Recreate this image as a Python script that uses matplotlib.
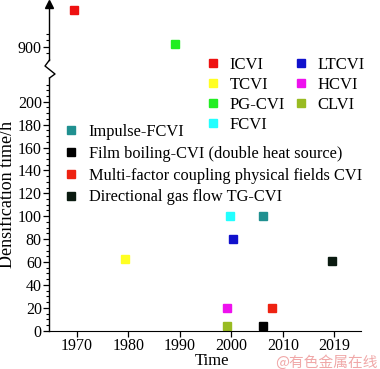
import matplotlib
matplotlib.use("Agg")
import matplotlib.pyplot as plt
from matplotlib.lines import Line2D
from matplotlib.ticker import FixedLocator, NullLocator

plt.rcParams['font.family'] = ['Liberation Serif', 'DejaVu Serif']

# ---- data ----
methods = ["ICVI", "TCVI", "PG-CVI", "FCVI", "LTCVI", "HCVI", "CLVI",
           "Impulse-FCVI", "Film boiling-CVI (double heat source)",
           "Multi-factor coupling physical fields CVI", "Directional gas flow TG-CVI"]
years = [1969.5, 1979.3, 1989.0, 1999.7, 2000.4, 1999.1, 1999.1,
         2006.1, 2006.1, 2008.0, 2019.5]
hours = [1041, 62.5, 909, 100, 80, 20, 4.5, 100, 4.5, 20, 61]
colors = ["#ee1111", "#ffff22", "#22ee22", "#22ffff", "#1111cc", "#ee11ee", "#99bb22",
          "#209090", "#000000", "#ee2211", "#0a1a10"]
xtick_pos = [1970, 1980, 1990, 2000, 2010, 2020]
xtick_labels = ["1970", "1980", "1990", "2000", "2010", "2019"]
ytick_lower = list(range(0, 201, 20))
ytick_upper = [900]

W, H = 380, 369
fig = plt.figure(figsize=(W / 100, H / 100), dpi=100)

def rect(x0, y0, x1, y1):
    return [x0 / W, 1 - y1 / H, (x1 - x0) / W, (y1 - y0) / H]

axL = fig.add_axes(rect(49.5, 78, 361, 330.7))
axU = fig.add_axes(rect(49.5, 4, 361, 60), sharex=axL)

xlim = (1964.70, 1964.70 + 311.5 / 5.15)
axL.set_xlim(*xlim)
axL.set_ylim(0, 220.7)
axU.set_ylim(848.8, 1064.2)

for ax in (axL, axU):
    ax.patch.set_alpha(0)
    for s in ("top", "right"):
        ax.spines[s].set_visible(False)
    ax.spines["left"].set_linewidth(1.0)
    ax.tick_params(axis="both", direction="out", labelsize=11.5, width=0.9, length=4, pad=1.5)
    ax.tick_params(which="minor", direction="out", width=0.8, length=2.5)

axU.spines["bottom"].set_visible(False)
axU.tick_params(axis="x", which="both", bottom=False, labelbottom=False)

# lower axis ticks
axL.set_xticks(xtick_pos)
axL.set_xticklabels(xtick_labels)
axL.xaxis.set_minor_locator(NullLocator())
axL.set_yticks(ytick_lower)
axL.yaxis.set_minor_locator(FixedLocator([v for v in range(0, 216, 5) if v % 20 != 0]))
axL.tick_params(axis="x", pad=1.5)

# upper axis ticks
axU.set_yticks(ytick_upper)
axU.yaxis.set_minor_locator(FixedLocator([875, 925, 950]))

# arrow at top of upper axis
axU.plot([0], [1.0], marker="^", color="black", markersize=6, transform=axU.transAxes,
         clip_on=False)

# break zigzag in figure pixels
zx = [49.5, 45, 55, 49.5]
zy = [60, 66, 74, 78]
fig.add_artist(Line2D([x / W for x in zx], [1 - y / H for y in zy], color="black", lw=1.0))

# data points
handles = []
for m, x, y, c in zip(methods, years, hours, colors):
    ax = axU if y > 500 else axL
    ax.plot([x], [y], marker="s", linestyle="none", color=c, markersize=5.8, clip_on=False)
    handles.append(Line2D([], [], marker="s", linestyle="none", color=c, markersize=5.8, label=m))

leg1 = fig.legend(handles=handles[:7], ncol=2, frameon=False, fontsize=12,
                  loc="upper left", bbox_to_anchor=(206 / W, 1 - 56.7 / H),
                  handlelength=0.8, handletextpad=0.6, columnspacing=0.55,
                  labelspacing=0.25, borderaxespad=0, borderpad=0)
leg2 = fig.legend(handles=handles[7:], ncol=1, frameon=False, fontsize=11.8,
                  loc="upper left", bbox_to_anchor=(64.7 / W, 1 - 123.7 / H),
                  handlelength=0.8, handletextpad=0.66,
                  labelspacing=0.36, borderaxespad=0, borderpad=0)

fig.text(8 / W, 1 - 194 / H, "Densification time/h", rotation=90, fontsize=13,
         ha="center", va="center")
fig.text(212 / W, 1 - 361 / H, "Time", fontsize=12, ha="center", va="center")
fig.text(378 / W, 1 - 363 / H, "@有色金属在线", fontsize=10.6, color="#f0a8a8",
         ha="right", va="center", family=["Noto Sans CJK SC", "DejaVu Sans"])

fig.savefig("out.png", dpi=100)
